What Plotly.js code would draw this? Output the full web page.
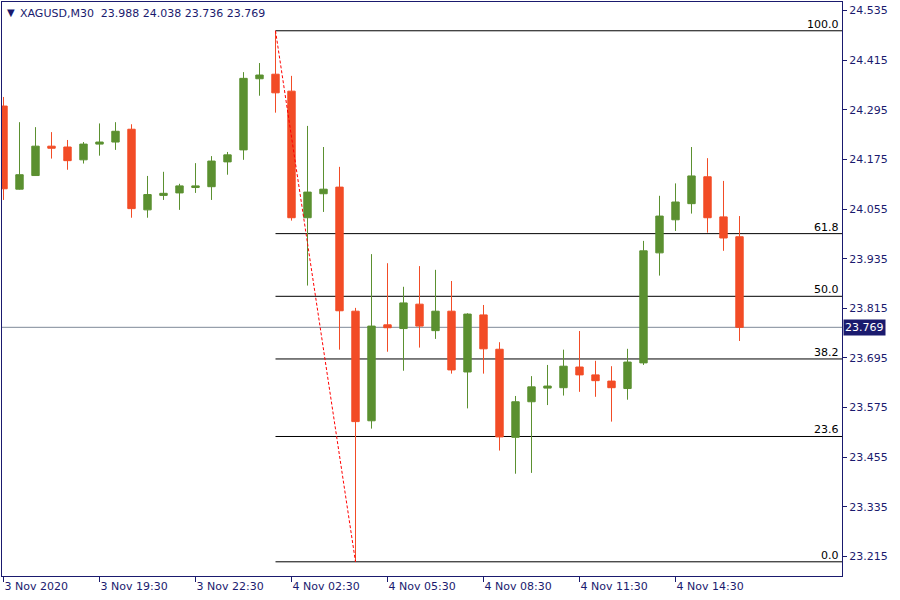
<!DOCTYPE html>
<html>
<head>
<meta charset="utf-8">
<script src="https://cdn.plot.ly/plotly-3.0.1.min.js"></script>
<style>html,body{margin:0;padding:0;background:#fff;}#chart{width:900px;height:600px;}</style>
</head>
<body>
<div id="chart"></div>
<script>
// ---- data (XAGUSD, M30) ----
const times = [
  "3 Nov 16:30","3 Nov 17:00","3 Nov 17:30","3 Nov 18:00","3 Nov 18:30","3 Nov 19:00",
  "3 Nov 19:30","3 Nov 20:00","3 Nov 20:30","3 Nov 21:00","3 Nov 21:30","3 Nov 22:00",
  "3 Nov 22:30","3 Nov 23:00","3 Nov 23:30","4 Nov 01:00","4 Nov 01:30","4 Nov 02:00",
  "4 Nov 02:30","4 Nov 03:00","4 Nov 03:30","4 Nov 04:00","4 Nov 04:30","4 Nov 05:00",
  "4 Nov 05:30","4 Nov 06:00","4 Nov 06:30","4 Nov 07:00","4 Nov 07:30","4 Nov 08:00",
  "4 Nov 08:30","4 Nov 09:00","4 Nov 09:30","4 Nov 10:00","4 Nov 10:30","4 Nov 11:00",
  "4 Nov 11:30","4 Nov 12:00","4 Nov 12:30","4 Nov 13:00","4 Nov 13:30","4 Nov 14:00",
  "4 Nov 14:30","4 Nov 15:00","4 Nov 15:30","4 Nov 16:00","4 Nov 16:30"
];
const open = [
  24.304,24.103,24.136,24.207,24.205,24.174,24.212,24.217,24.248,24.053,24.088,24.094,
  24.107,24.109,24.169,24.198,24.370,24.381,24.340,24.034,24.092,24.108,23.808,23.543,
  23.775,23.766,23.825,23.761,23.808,23.661,23.799,23.716,23.503,23.589,23.622,23.623,
  23.673,23.654,23.639,23.621,23.683,23.949,24.029,24.068,24.133,24.036,23.988
];
const high = [
  24.326,24.265,24.253,24.241,24.222,24.217,24.262,24.265,24.260,24.135,24.145,24.116,
  24.166,24.183,24.193,24.386,24.408,24.486,24.377,24.256,24.205,24.157,23.816,23.946,
  23.924,23.867,23.917,23.908,23.881,23.803,23.823,23.733,23.603,23.651,23.678,23.715,
  23.760,23.688,23.675,23.717,23.978,24.087,24.117,24.205,24.178,24.123,24.038
];
const low = [
  24.077,24.102,24.135,24.177,24.150,24.165,24.184,24.198,24.034,24.034,24.077,24.053,
  24.094,24.077,24.138,24.174,24.329,24.288,24.027,23.870,24.048,23.715,23.202,23.524,
  23.710,23.664,23.720,23.741,23.657,23.573,23.657,23.471,23.415,23.417,23.581,23.604,
  23.613,23.601,23.541,23.594,23.678,23.894,24.002,24.044,23.998,23.954,23.736
];
const close = [
  24.104,24.138,24.207,24.202,24.172,24.212,24.217,24.243,24.056,24.090,24.093,24.111,
  24.111,24.171,24.186,24.371,24.379,24.336,24.034,24.096,24.103,23.809,23.541,23.772,
  23.768,23.828,23.772,23.808,23.666,23.801,23.717,23.504,23.589,23.625,23.627,23.675,
  23.654,23.640,23.623,23.685,23.954,24.038,24.072,24.135,24.034,23.985,23.769
];
const tickTimes  = ["3 Nov 16:30","3 Nov 19:30","3 Nov 22:30","4 Nov 02:30","4 Nov 05:30","4 Nov 08:30","4 Nov 11:30","4 Nov 14:30"];
const tickLabels = ["3 Nov 2020","3 Nov 19:30","3 Nov 22:30","4 Nov 02:30","4 Nov 05:30","4 Nov 08:30","4 Nov 11:30","4 Nov 14:30"];
const priceTicks = [24.535,24.415,24.295,24.175,24.055,23.935,23.815,23.695,23.575,23.455,23.335,23.215];
const fibLevels = [100.0, 61.8, 50.0, 38.2, 23.6, 0.0];
const fibHighIndex = 17;   // swing high bar
const fibLowIndex = 22;    // swing low bar
const symbol = "XAGUSD,M30";

// ---- styling ----
const GREEN = "#5b9030", RED = "#f24c26", NAVY = "#1a1a6e";
const FONT = "DejaVu Sans";
const last = open.length - 1;
const lastClose = close[last];
const fibHigh = high[fibHighIndex], fibLow = low[fibLowIndex];
const xRange = [-0.09375, 52.40625];
const yRange = [23.1677, 24.5556];

const trace = {
  type: "candlestick",
  x: times, open: open, high: high, low: low, close: close,
  increasing: {line: {color: GREEN, width: 1}, fillcolor: GREEN},
  decreasing: {line: {color: RED, width: 1}, fillcolor: RED},
  whiskerwidth: 0,
  hoverinfo: "skip",
  showlegend: false
};

const shapes = [];
const annotations = [];
// current price line
shapes.push({type: "line", xref: "paper", x0: 0, x1: 1, yref: "y", y0: lastClose, y1: lastClose,
  line: {color: "#7f8a98", width: 1}, layer: "below"});
// fibonacci levels
fibLevels.forEach(function(r) {
  const p = fibLow + (fibHigh - fibLow) * r / 100;
  shapes.push({type: "line", xref: "x", x0: fibHighIndex, x1: xRange[1], yref: "y", y0: p, y1: p,
    line: {color: "#000000", width: 1}, layer: "below"});
  annotations.push({xref: "paper", x: 1, xanchor: "right", xshift: -1, yref: "y", y: p, yanchor: "bottom",
    text: r.toFixed(1), showarrow: false, font: {family: FONT, size: 11, color: "#000"}, yshift: -2});
});
// fib trend line
shapes.push({type: "line", xref: "x", x0: fibHighIndex, x1: fibLowIndex, yref: "y", y0: fibHigh, y1: fibLow,
  line: {color: "#ff0000", width: 1, dash: "3px,2px"}, layer: "above"});

// price label
annotations.push({xref: "paper", x: 1, xanchor: "left", xshift: 1, yref: "y", y: lastClose, yanchor: "middle",
  text: lastClose.toFixed(3), showarrow: false, bgcolor: NAVY, borderpad: 1,
  font: {family: FONT, size: 11, color: "#ffffff"}});
// header
annotations.push({xref: "paper", x: 0, xanchor: "left", xshift: 3, yref: "paper", y: 1, yanchor: "top", yshift: -3,
  text: "▼", showarrow: false, font: {family: FONT, size: 10, color: NAVY}});
annotations.push({xref: "paper", x: 0, xanchor: "left", xshift: 16, yref: "paper", y: 1, yanchor: "top", yshift: -3,
  text: symbol + "  " + [open[last], high[last], low[last], close[last]].map(v => v.toFixed(3)).join(" "),
  showarrow: false, font: {family: FONT, size: 11, color: NAVY}});

const layout = {
  width: 900, height: 600,
  margin: {l: 2, r: 58, t: 2, b: 24},
  paper_bgcolor: "#ffffff", plot_bgcolor: "#ffffff",
  font: {family: FONT, size: 11, color: NAVY},
  boxgap: 0.34,
  showlegend: false,
  hovermode: false,
  xaxis: {
    type: "category", range: xRange, rangeslider: {visible: false},
    showgrid: false, zeroline: false,
    showline: true, mirror: true, linecolor: NAVY, linewidth: 1,
    ticks: "outside", ticklen: 5, tickcolor: NAVY,
    tickmode: "array", tickvals: tickTimes, ticktext: tickLabels,
    ticklabelposition: "outside right",
    tickfont: {family: FONT, size: 11, color: NAVY}
  },
  yaxis: {
    side: "right", range: yRange, showgrid: false, zeroline: false,
    showline: true, mirror: true, linecolor: NAVY, linewidth: 1,
    ticks: "outside", ticklen: 4, tickcolor: NAVY,
    tickmode: "array", tickvals: priceTicks, ticktext: priceTicks.map(v => v.toFixed(3)),
    tickfont: {family: FONT, size: 11, color: NAVY}
  },
  shapes: shapes,
  annotations: annotations
};

Plotly.newPlot("chart", [trace], layout, {displayModeBar: false, staticPlot: true});
</script>
</body>
</html>
